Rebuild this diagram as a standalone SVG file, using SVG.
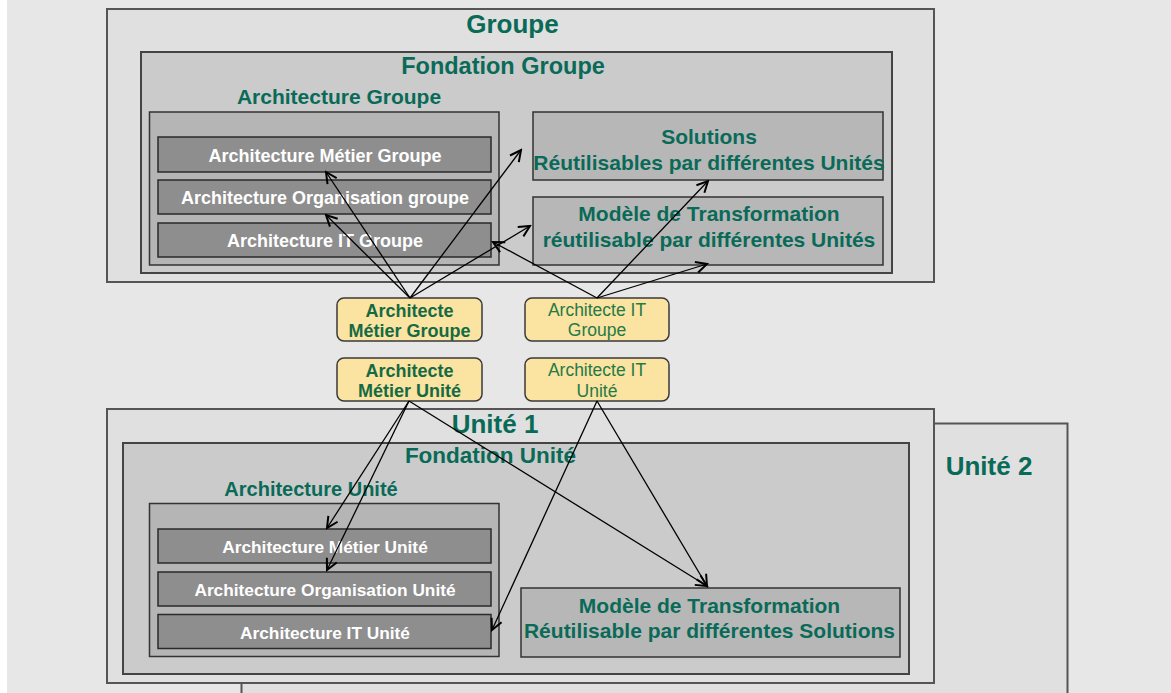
<svg xmlns="http://www.w3.org/2000/svg" width="1171" height="693" viewBox="0 0 1171 693">
<defs>
<marker id="arr" markerUnits="userSpaceOnUse" markerWidth="14" markerHeight="14" viewBox="0 0 14 14" refX="12" refY="7" orient="auto">
<path d="M1,1.5 L12,7 L1,12.5" fill="none" stroke="#000" stroke-width="2"/>
</marker>
<style>
text{font-family:"Liberation Sans",Arial,sans-serif;}
.outer{fill:#e0e0e0;stroke:#555;stroke-width:2;}
.fond{fill:#cbcbcb;stroke:#444;stroke-width:2;}
.arch{fill:#b5b5b5;stroke:#333;stroke-width:1.5;}
.sub{fill:#8e8e8e;stroke:#2a2a2a;stroke-width:1.5;}
.sol{fill:#b7b7b7;stroke:#333;stroke-width:1.5;}
.yel{fill:#fbe3a2;stroke:#3a3a3a;stroke-width:1.5;}
.t{fill:#0a6a58;font-weight:bold;text-anchor:middle;}
.w{fill:#fff;font-weight:bold;text-anchor:middle;}
.yb{fill:#156a44;font-weight:bold;text-anchor:middle;font-size:18px;}
.yr{fill:#267a46;text-anchor:middle;font-size:17.5px;}
.c{fill:none;stroke:#000;stroke-width:1.3;marker-end:url(#arr);}
</style>
</defs>
<rect x="0" y="0" width="1171" height="693" fill="#e7e7e7"/>
<rect x="0" y="0" width="7" height="693" fill="#ffffff"/>

<g id="unite2">
<rect class="outer" x="241.5" y="423.5" width="826" height="300"/>
<text class="t" x="989" y="475" font-size="26">Unité 2</text>
</g>

<g id="groupe">
<rect class="outer" x="107" y="9" width="827" height="273"/>
<text class="t" x="512.5" y="33" font-size="26">Groupe</text>
</g>
<g id="fondation-groupe">
<rect class="fond" x="141" y="52" width="751" height="221"/>
<text class="t" x="503" y="74" font-size="23.5">Fondation Groupe</text>
</g>
<g id="architecture-groupe">
<rect class="arch" x="149.5" y="112" width="349.5" height="153"/>
<text class="t" x="339" y="104" font-size="21">Architecture Groupe</text>
</g>
<g id="arch-metier-groupe">
<rect class="sub" x="158" y="137" width="333" height="35"/>
<text class="w" x="325" y="162" font-size="18">Architecture Métier Groupe</text>
</g>
<g id="arch-org-groupe">
<rect class="sub" x="158" y="180" width="333" height="34"/>
<text class="w" x="325" y="204" font-size="18">Architecture Organisation groupe</text>
</g>
<g id="arch-it-groupe">
<rect class="sub" x="158" y="223" width="333" height="34"/>
<text class="w" x="325" y="247" font-size="18">Architecture IT Groupe</text>
</g>
<g id="solutions">
<rect class="sol" x="533" y="112" width="350" height="68"/>
<text class="t" x="709" y="144" font-size="21">Solutions</text>
<text class="t" x="709" y="170" font-size="21">Réutilisables par différentes Unités</text>
</g>
<g id="modele-groupe">
<rect class="sol" x="533" y="197" width="350" height="68"/>
<text class="t" x="709" y="221" font-size="21">Modèle de Transformation</text>
<text class="t" x="709" y="247" font-size="21">réutilisable par différentes Unités</text>
</g>

<g id="architecte-metier-groupe">
<rect class="yel" x="337" y="298" width="145" height="43" rx="7"/>
<text class="yb" x="409.5" y="317">Architecte</text>
<text class="yb" x="409.5" y="337">Métier Groupe</text>
</g>
<g id="architecte-it-groupe">
<rect class="yel" x="525" y="298" width="144" height="43" rx="7"/>
<text class="yr" x="597" y="316">Architecte IT</text>
<text class="yr" x="597" y="336">Groupe</text>
</g>
<g id="architecte-metier-unite">
<rect class="yel" x="337" y="358" width="145" height="43" rx="7"/>
<text class="yb" x="409.5" y="377">Architecte</text>
<text class="yb" x="409.5" y="397">Métier Unité</text>
</g>
<g id="architecte-it-unite">
<rect class="yel" x="525" y="358" width="144" height="43" rx="7"/>
<text class="yr" x="597" y="376">Architecte IT</text>
<text class="yr" x="597" y="397">Unité</text>
</g>

<g id="unite1">
<rect class="outer" x="107" y="409" width="827" height="274"/>
<text class="t" x="495" y="433" font-size="26">Unité 1</text>
</g>
<g id="fondation-unite">
<rect class="fond" x="123" y="443" width="786" height="231"/>
<text class="t" x="490.5" y="463" font-size="22.5">Fondation Unité</text>
</g>
<g id="architecture-unite">
<rect class="arch" x="149.5" y="503.5" width="349.5" height="153"/>
<text class="t" x="311" y="496" font-size="20">Architecture Unité</text>
</g>
<g id="arch-metier-unite">
<rect class="sub" x="158" y="529" width="333" height="34"/>
<text class="w" x="325" y="553" font-size="17.3">Architecture Métier Unité</text>
</g>
<g id="arch-org-unite">
<rect class="sub" x="158" y="572" width="333" height="34"/>
<text class="w" x="325" y="596" font-size="17.3">Architecture Organisation Unité</text>
</g>
<g id="arch-it-unite">
<rect class="sub" x="158" y="614.5" width="333" height="34"/>
<text class="w" x="325" y="639" font-size="17.3">Architecture IT Unité</text>
</g>
<g id="modele-unite">
<rect class="sol" x="521" y="588" width="379" height="69"/>
<text class="t" x="709.5" y="613" font-size="21">Modèle de Transformation</text>
<text class="t" x="709.5" y="638" font-size="21">Réutilisable par différentes Solutions</text>
</g>

<g id="connectors">
<line class="c" x1="410" y1="298" x2="326" y2="172"/>
<line class="c" x1="410" y1="298" x2="326" y2="215"/>
<line class="c" x1="410" y1="298" x2="521" y2="150"/>
<line class="c" x1="410" y1="298" x2="530" y2="226"/>
<line class="c" x1="597" y1="298" x2="493" y2="242"/>
<line class="c" x1="597" y1="298" x2="708" y2="181"/>
<line class="c" x1="597" y1="298" x2="707" y2="264"/>
<line class="c" x1="409" y1="401" x2="327" y2="528"/>
<line class="c" x1="409" y1="401" x2="327" y2="570"/>
<line class="c" x1="409" y1="401" x2="707" y2="586"/>
<line class="c" x1="597" y1="401" x2="492" y2="630"/>
<line class="c" x1="597" y1="401" x2="707" y2="586"/>
</g>
</svg>
